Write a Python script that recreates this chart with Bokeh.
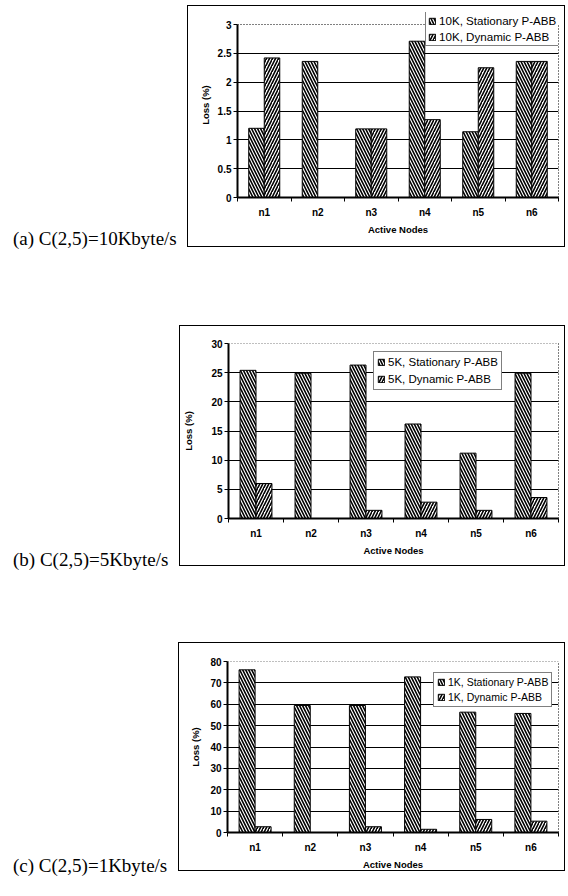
from bokeh.plotting import figure
from bokeh.models import (ColumnDataSource, Range1d, FixedTicker, NumeralTickFormatter, Div,
                          LinearAxis, Span)
from bokeh.layouts import column, row
from bokeh.transform import dodge
from bokeh.embed import file_html
from bokeh.resources import INLINE

nodes = ["n1", "n2", "n3", "n4", "n5", "n6"]

stat_10k = [1.2, 2.36, 1.19, 2.71, 1.14, 2.36]
dyn_10k = [2.42, 0, 1.19, 1.35, 2.25, 2.36]
stat_5k = [25.4, 24.9, 26.3, 16.2, 11.2, 24.9]
dyn_5k = [6.0, 0, 1.4, 2.8, 1.4, 3.6]
stat_1k = [76.1, 59.4, 59.4, 72.8, 56.3, 55.7]
dyn_1k = [2.7, 0, 2.7, 1.5, 6.1, 5.3]

y_max = [3, 30, 80]
y_step = [0.5, 5, 10]
legend_stat = ["10K, Stationary P-ABB", "5K, Stationary P-ABB", "1K, Stationary P-ABB"]
legend_dyn = ["10K, Dynamic P-ABB", "5K, Dynamic P-ABB", "1K, Dynamic P-ABB"]
captions = ["(a) C(2,5)=10Kbyte/s", "(b) C(2,5)=5Kbyte/s", "(c) C(2,5)=1Kbyte/s"]

FONT = "Liberation Sans"


def make_panel(k, stat, dyn, width, height, borders, headroom, leg_loc, leg_font, leg_lh,
               leg_pad, ylab_standoff):
    bl, br, bt, bb = borders
    frame_h = height - bt - bb
    plot_h = frame_h - headroom
    y_end = y_max[k] * frame_h / plot_h
    src = ColumnDataSource(dict(x=[i + 1 for i in range(len(nodes))], stat=stat, dyn=dyn))
    p = figure(width=width, height=height, output_backend="svg", toolbar_location=None,
               x_range=Range1d(0.5, len(nodes) + 0.5), y_range=Range1d(0, y_end),
               min_border_left=bl, min_border_right=br, min_border_top=bt, min_border_bottom=bb)
    p.vbar(x=dodge("x", -0.145), top="stat", width=0.29, source=src,
           fill_color="white", line_color="black", line_width=1,
           hatch_pattern="\\", hatch_color="black", hatch_scale=6, hatch_weight=1.6,
           legend_label=legend_stat[k])
    p.vbar(x=dodge("x", 0.145), top="dyn", width=0.29, source=src,
           fill_color="white", line_color="black", line_width=1,
           hatch_pattern="/", hatch_color="black", hatch_scale=6, hatch_weight=1.6,
           legend_label=legend_dyn[k])

    n = int(round(y_max[k] / y_step[k]))
    yt = [i * y_step[k] for i in range(n + 1)]
    xa = p.xaxis[0]
    ya = p.yaxis[0]

    ya.ticker = FixedTicker(ticks=yt)
    ya.formatter = NumeralTickFormatter(format="0.[0]")
    ya.bounds = (0, y_max[k])
    p.ygrid.ticker = FixedTicker(ticks=yt[1:-1])
    p.ygrid.grid_line_color = "black"
    p.ygrid.grid_line_width = 1.2
    p.xgrid.grid_line_color = None

    xt = [i + 1 for i in range(len(nodes))]
    xa.ticker = FixedTicker(ticks=xt, minor_ticks=[i + 0.5 for i in range(len(nodes) + 1)])
    xa.major_label_overrides = {i + 1: nm for i, nm in enumerate(nodes)}
    xa.major_tick_out = 0
    xa.major_tick_in = 0
    xa.minor_tick_out = 4
    xa.minor_tick_in = 0
    xa.minor_tick_line_color = "black"
    xa.major_label_standoff = 5
    xa.axis_label = "Active Nodes"
    xa.axis_label_standoff = 3

    ya.major_tick_out = 4
    ya.major_tick_in = 0
    ya.minor_tick_line_color = None
    ya.major_label_standoff = 2
    ya.axis_label = "Loss (%)"
    ya.axis_label_standoff = ylab_standoff

    for ax in (xa, ya):
        ax.axis_line_color = "black"
        ax.axis_line_width = 2
        ax.major_label_text_font = FONT
        ax.major_label_text_font_style = "bold"
        ax.major_label_text_font_size = "10px"
        ax.major_label_text_color = "black"
        ax.axis_label_text_font = FONT
        ax.axis_label_text_font_style = "bold"
        ax.axis_label_text_font_size = "9.5px"
        ax.axis_label_text_color = "black"
    xa.major_tick_line_color = None
    ya.major_tick_line_color = "black"

    # dotted plot-area border (top and right)
    p.add_layout(Span(location=y_max[k], dimension="width", line_color="black",
                      line_dash="1 2", line_width=1))
    rax = LinearAxis(bounds=(0, y_max[k]), ticker=FixedTicker(ticks=[]),
                     axis_line_color="black", axis_line_dash="1 2", axis_line_width=1,
                     major_tick_line_color=None, minor_tick_line_color=None,
                     major_tick_out=0, major_tick_in=0, minor_tick_out=0, minor_tick_in=0,
                     major_label_standoff=0, major_label_text_font_size="0px")
    p.add_layout(rax, "right")

    p.outline_line_color = None
    p.background_fill_color = "white"
    p.border_fill_color = "white"

    lg = p.legend[0]
    lg.location = leg_loc
    lg.margin = 0
    lg.padding = leg_pad
    lg.spacing = 3
    lg.glyph_width = 8
    lg.glyph_height = 8
    lg.label_height = leg_lh
    lg.label_standoff = 3
    lg.label_text_font = FONT
    lg.label_text_font_size = leg_font
    lg.label_text_color = "black"
    lg.border_line_color = "black"
    lg.border_line_width = 1
    lg.background_fill_color = "white"
    lg.background_fill_alpha = 1

    p.styles = {"border": "1px solid black"}
    return p


pa = make_panel(0, stat_10k, dyn_10k, 378, 242, (49, 8, 6, 51), 12, (188, 151), "11.6px", 13, 2, 4)
pb = make_panel(1, stat_5k, dyn_5k, 386, 241, (47, 8, 17, 49), 0, (145, 128), "11.5px", 14, 3, 14)
pc = make_panel(2, stat_1k, dyn_1k, 387, 229, (48, 8, 18, 40), 0, (206, 125), "10.5px", 12, 3, 6)


def caption(k, width, shift):
    return Div(text='<div style="font-family:\'Liberation Serif\';font-size:19px;line-height:22px;'
               'white-space:nowrap;color:black;margin:0;padding:0;position:relative;top:%dpx">' % shift
               + captions[k] + '</div>',
               width=width, height=22, margin=(0, 0, 0, 5), align="end")


ra_ = row(caption(0, 174, 3), pa)
rb_ = row(caption(1, 166, 5), pb, margin=(78, 0, 0, 0))
rc_ = row(caption(2, 165, 6), pc, margin=(76, 0, 0, 0))

layout = column(ra_, rb_, rc_, margin=(5, 0, 0, 8))

open("out.html", "w").write(file_html(layout, INLINE))
